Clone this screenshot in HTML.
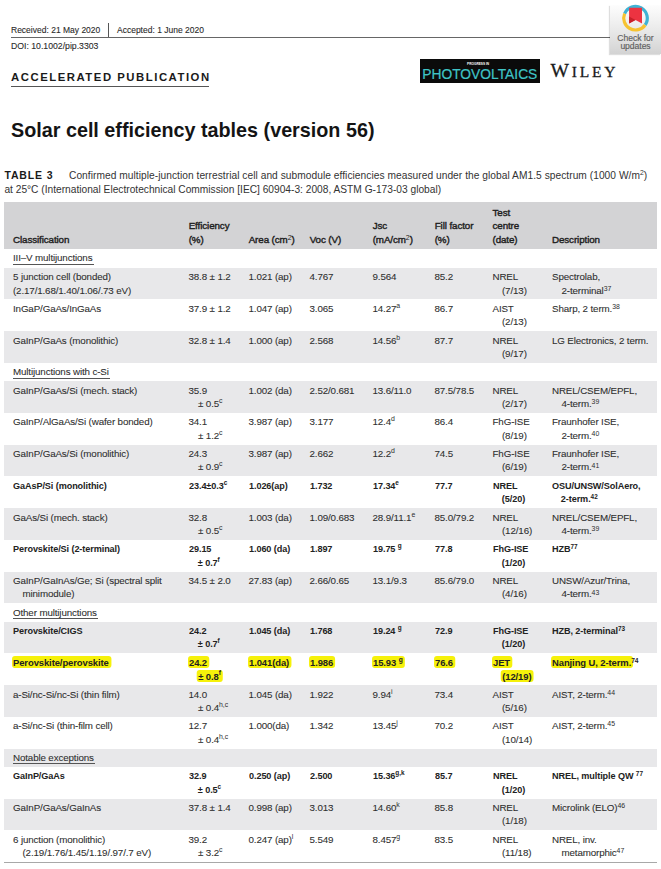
<!DOCTYPE html>
<html><head><meta charset="utf-8">
<style>
*{margin:0;padding:0;box-sizing:border-box}
html,body{width:661px;height:869px;overflow:hidden;background:#fff}
body{position:relative;font-family:"Liberation Sans",sans-serif;color:#2b2b2b}
.abs{position:absolute;white-space:nowrap}
.meta{font-size:8.5px;color:#2a2a2a;line-height:10px;-webkit-text-stroke:0.1px #2a2a2a}
.sec,.row,.head{position:absolute;left:3.5px;width:653.5px}
.row{height:31.75px}
.head{top:202.3px;height:46.89999999999998px;background:#d3d3d5}
.c{position:absolute;top:2.45px;white-space:nowrap;font-size:9.8px;line-height:13.4px;color:#2e2e2e;letter-spacing:-0.14px;-webkit-text-stroke:0.08px #2e2e2e}
.head .c{top:auto;bottom:2.9px;color:#1e1e1e;-webkit-text-stroke:0.4px #1e1e1e;letter-spacing:-0.1px}
.b .c{font-weight:bold;color:#222;letter-spacing:-0.1px;-webkit-text-stroke:0;transform:scaleX(0.93);transform-origin:0 0}
.l2{padding-left:9.5px}
.sec .ul{position:absolute;left:9.5px;top:2.3px;font-size:9.8px;line-height:13.4px;color:#2e2e2e;letter-spacing:-0.14px;-webkit-text-stroke:0.08px #2e2e2e}
.sec .ul::after{content:'';position:absolute;left:-0.5px;right:-1.5px;top:12.4px;height:1.2px;background:#555}
sup{font-size:6.9px;vertical-align:top;position:relative;top:2.1px;line-height:6.9px;letter-spacing:0;-webkit-text-stroke:0}
.hl{background:#f6f10a;border-radius:3px;padding:0.6px 2.4px 0.6px 1.4px;margin:0 -2.4px 0 -1.4px}
.hlrow .c{transform:scaleX(0.965)}
sup.lc{top:1.0px}
</style></head><body>
<div class="abs meta" style="left:11px;top:24.6px">Received: 21 May 2020</div>
<div class="abs" style="left:108px;top:23px;width:1px;height:15px;background:#555"></div>
<div class="abs meta" style="left:117px;top:24.6px">Accepted: 1 June 2020</div>
<div class="abs" style="left:10.5px;top:37.2px;width:599px;height:1px;background:#666"></div>
<div class="abs meta" style="left:11px;top:40.5px;font-size:8.7px">DOI: 10.1002/pip.3303</div>

<div class="abs" style="left:11px;top:71px;font-size:10.5px;font-weight:bold;letter-spacing:1.41px;color:#1a1a1a;line-height:12px;transform:scaleX(1.08);transform-origin:0 0">ACCELERATED PUBLICATION</div>
<div class="abs" style="left:11px;top:85.5px;width:197.5px;height:1.4px;background:#555"></div>

<!-- badge -->
<div class="abs" style="left:610px;top:4.5px;width:51px;height:49px;background:linear-gradient(#fdfdfd,#ececec 45%,#d3d3d3);box-shadow:-1px 1px 1px rgba(0,0,0,0.13)"></div>
<svg class="abs" style="left:609px;top:0" width="52" height="54" viewBox="0 0 52 54">
  <path d="M 15.64 13.59 A 11.8 11.8 0 1 1 36.16 24.97" fill="none" stroke="#3fb3d4" stroke-width="3.2"/>
  <path d="M 36.16 24.97 A 11.8 11.8 0 0 1 15.64 13.59" fill="none" stroke="#f6c332" stroke-width="3.2"/>
  <path d="M 20.1 7.8 H 33 V 23.5 L 26.5 19.9 L 20.1 23.5 Z" fill="#ec3341"/>
  <path d="M 20.1 16.6 L 26.5 19.9 L 20.1 23.5 Z" fill="#c8202a"/>
</svg>
<div class="abs" style="left:609.5px;top:35.3px;width:52px;text-align:center;font-size:8.6px;line-height:7.7px;color:#5e5e5e;letter-spacing:-0.05px;-webkit-text-stroke:0.15px #5e5e5e">Check for<br>updates</div>

<!-- PIP logo -->
<div class="abs" style="left:419.5px;top:59px;width:120px;height:24.3px;background:#0b0b0b"></div>
<div class="abs" style="left:467px;top:62px;font-size:3.2px;line-height:4px;color:#fff;font-weight:bold">PROGRESS IN</div>
<div class="abs" style="left:422.3px;top:66.9px;font-size:13.8px;line-height:16px;color:#3fc4c6;transform:scaleX(1.0);transform-origin:0 0;-webkit-text-stroke:0.2px #3fc4c6">PHOTOVOLTAICS</div>
<div class="abs" style="left:550.5px;top:61.2px;font-family:'Liberation Serif',serif;color:#1a1a1a;line-height:20px;letter-spacing:2.8px;-webkit-text-stroke:0.3px #1a1a1a"><span style="font-size:19.5px">W</span><span style="font-size:15.5px">ILEY</span></div>

<div class="abs" style="left:11px;top:117.6px;font-size:20.8px;font-weight:bold;color:#141414;line-height:24px;transform:scaleX(0.95);transform-origin:0 0">Solar cell efficiency tables (version 56)</div>

<div class="abs" style="left:4.4px;top:167.5px;font-size:10.5px;font-weight:bold;letter-spacing:0.85px;color:#1a1a1a;line-height:14px">TABLE 3</div>
<div class="abs" style="left:69px;top:169px;font-size:10.2px;color:#333;line-height:14px;letter-spacing:0.045px">Confirmed multiple-junction terrestrial cell and submodule efficiencies measured under the global AM1.5 spectrum (1000 W/m<sup style="top:0.5px">2</sup>)</div>
<div class="abs" style="left:4.4px;top:183px;font-size:10.2px;color:#333;line-height:14px">at 25°C (International Electrotechnical Commission [IEC] 60904-3: 2008, ASTM G-173-03 global)</div>

<div class="head">
 <div class="c" style="left:9.5px">Classification</div>
 <div class="c" style="left:185.2px">Efficiency<br>(%)</div>
 <div class="c" style="left:245.2px">Area (cm<sup>2</sup>)</div>
 <div class="c" style="left:306.2px">Voc (V)</div>
 <div class="c" style="left:369.2px">Jsc<br>(mA/cm<sup>2</sup>)</div>
 <div class="c" style="left:431.2px">Fill factor<br>(%)</div>
 <div class="c" style="left:489px">Test<br>centre<br>(date)</div>
 <div class="c" style="left:548.5px">Description</div>
</div>
<div class="sec" style="top:249.20px;height:18.50px;background:#fff"><span class="ul">III–V multijunctions</span></div>
<div class="row" style="top:267.70px;background:#e8e8ea"><div class="c" style="left:9.5px"><div class="l1">5 junction cell (bonded)</div><div class="l1">(2.17/1.68/1.40/1.06/.73 eV)</div></div><div class="c" style="left:185.0px"><div class="l1">38.8 ± 1.2</div></div><div class="c" style="left:245.0px"><div class="l1">1.021 (ap)</div></div><div class="c" style="left:306.0px"><div class="l1">4.767</div></div><div class="c" style="left:369.0px"><div class="l1">9.564</div></div><div class="c" style="left:431.0px"><div class="l1">85.2</div></div><div class="c" style="left:489.0px"><div class="l1">NREL</div><div class="l2">(7/13)</div></div><div class="c" style="left:548.5px"><div class="l1">Spectrolab,</div><div class="l2">2-terminal<sup>37</sup></div></div></div>
<div class="row" style="top:299.45px;background:#fff"><div class="c" style="left:9.5px"><div class="l1">InGaP/GaAs/InGaAs</div></div><div class="c" style="left:185.0px"><div class="l1">37.9 ± 1.2</div></div><div class="c" style="left:245.0px"><div class="l1">1.047 (ap)</div></div><div class="c" style="left:306.0px"><div class="l1">3.065</div></div><div class="c" style="left:369.0px"><div class="l1">14.27<sup class="lc">a</sup></div></div><div class="c" style="left:431.0px"><div class="l1">86.7</div></div><div class="c" style="left:489.0px"><div class="l1">AIST</div><div class="l2">(2/13)</div></div><div class="c" style="left:548.5px"><div class="l1">Sharp, 2 term.<sup>38</sup></div></div></div>
<div class="row" style="top:331.20px;background:#e8e8ea"><div class="c" style="left:9.5px"><div class="l1">GaInP/GaAs (monolithic)</div></div><div class="c" style="left:185.0px"><div class="l1">32.8 ± 1.4</div></div><div class="c" style="left:245.0px"><div class="l1">1.000 (ap)</div></div><div class="c" style="left:306.0px"><div class="l1">2.568</div></div><div class="c" style="left:369.0px"><div class="l1">14.56<sup class="lc">b</sup></div></div><div class="c" style="left:431.0px"><div class="l1">87.7</div></div><div class="c" style="left:489.0px"><div class="l1">NREL</div><div class="l2">(9/17)</div></div><div class="c" style="left:548.5px"><div class="l1">LG Electronics, 2 term.</div></div></div>
<div class="sec" style="top:362.95px;height:18.20px;background:#fff"><span class="ul">Multijunctions with c-Si</span></div>
<div class="row" style="top:381.15px;background:#e8e8ea"><div class="c" style="left:9.5px"><div class="l1">GaInP/GaAs/Si (mech. stack)</div></div><div class="c" style="left:185.0px"><div class="l1">35.9</div><div class="l2">± 0.5<sup class="lc">c</sup></div></div><div class="c" style="left:245.0px"><div class="l1">1.002 (da)</div></div><div class="c" style="left:306.0px"><div class="l1">2.52/0.681</div></div><div class="c" style="left:369.0px"><div class="l1">13.6/11.0</div></div><div class="c" style="left:431.0px"><div class="l1">87.5/78.5</div></div><div class="c" style="left:489.0px"><div class="l1">NREL</div><div class="l2">(2/17)</div></div><div class="c" style="left:548.5px"><div class="l1">NREL/CSEM/EPFL,</div><div class="l2">4-term.<sup>39</sup></div></div></div>
<div class="row" style="top:412.90px;background:#fff"><div class="c" style="left:9.5px"><div class="l1">GaInP/AlGaAs/Si (wafer bonded)</div></div><div class="c" style="left:185.0px"><div class="l1">34.1</div><div class="l2">± 1.2<sup class="lc">c</sup></div></div><div class="c" style="left:245.0px"><div class="l1">3.987 (ap)</div></div><div class="c" style="left:306.0px"><div class="l1">3.177</div></div><div class="c" style="left:369.0px"><div class="l1">12.4<sup class="lc">d</sup></div></div><div class="c" style="left:431.0px"><div class="l1">86.4</div></div><div class="c" style="left:489.0px"><div class="l1">FhG-ISE</div><div class="l2">(8/19)</div></div><div class="c" style="left:548.5px"><div class="l1">Fraunhofer ISE,</div><div class="l2">2-term.<sup>40</sup></div></div></div>
<div class="row" style="top:444.65px;background:#e8e8ea"><div class="c" style="left:9.5px"><div class="l1">GaInP/GaAs/Si (monolithic)</div></div><div class="c" style="left:185.0px"><div class="l1">24.3</div><div class="l2">± 0.9<sup class="lc">c</sup></div></div><div class="c" style="left:245.0px"><div class="l1">3.987 (ap)</div></div><div class="c" style="left:306.0px"><div class="l1">2.662</div></div><div class="c" style="left:369.0px"><div class="l1">12.2<sup class="lc">d</sup></div></div><div class="c" style="left:431.0px"><div class="l1">74.5</div></div><div class="c" style="left:489.0px"><div class="l1">FhG-ISE</div><div class="l2">(6/19)</div></div><div class="c" style="left:548.5px"><div class="l1">Fraunhofer ISE,</div><div class="l2">2-term.<sup>41</sup></div></div></div>
<div class="row b" style="top:476.40px;background:#fff"><div class="c" style="left:9.5px"><div class="l1">GaAsP/Si (monolithic)</div></div><div class="c" style="left:185.0px"><div class="l1">23.4±0.3<sup class="lc">c</sup></div></div><div class="c" style="left:245.0px"><div class="l1">1.026(ap)</div></div><div class="c" style="left:306.0px"><div class="l1">1.732</div></div><div class="c" style="left:369.0px"><div class="l1">17.34<sup class="lc">e</sup></div></div><div class="c" style="left:431.0px"><div class="l1">77.7</div></div><div class="c" style="left:489.0px"><div class="l1">NREL</div><div class="l2">(5/20)</div></div><div class="c" style="left:548.5px"><div class="l1">OSU/UNSW/SolAero,</div><div class="l2">2-term.<sup>42</sup></div></div></div>
<div class="row" style="top:508.15px;background:#e8e8ea"><div class="c" style="left:9.5px"><div class="l1">GaAs/Si (mech. stack)</div></div><div class="c" style="left:185.0px"><div class="l1">32.8</div><div class="l2">± 0.5<sup class="lc">c</sup></div></div><div class="c" style="left:245.0px"><div class="l1">1.003 (da)</div></div><div class="c" style="left:306.0px"><div class="l1">1.09/0.683</div></div><div class="c" style="left:369.0px"><div class="l1">28.9/11.1<sup class="lc">e</sup></div></div><div class="c" style="left:431.0px"><div class="l1">85.0/79.2</div></div><div class="c" style="left:489.0px"><div class="l1">NREL</div><div class="l2">(12/16)</div></div><div class="c" style="left:548.5px"><div class="l1">NREL/CSEM/EPFL,</div><div class="l2">4-term.<sup>39</sup></div></div></div>
<div class="row b" style="top:539.90px;background:#fff"><div class="c" style="left:9.5px"><div class="l1">Perovskite/Si (2-terminal)</div></div><div class="c" style="left:185.0px"><div class="l1">29.15</div><div class="l2">± 0.7<sup class="lc">f</sup></div></div><div class="c" style="left:245.0px"><div class="l1">1.060 (da)</div></div><div class="c" style="left:306.0px"><div class="l1">1.897</div></div><div class="c" style="left:369.0px"><div class="l1">19.75 <sup class="lc">g</sup></div></div><div class="c" style="left:431.0px"><div class="l1">77.8</div></div><div class="c" style="left:489.0px"><div class="l1">FhG-ISE</div><div class="l2">(1/20)</div></div><div class="c" style="left:548.5px"><div class="l1">HZB<sup>77</sup></div></div></div>
<div class="row" style="top:571.65px;background:#e8e8ea"><div class="c" style="left:9.5px"><div class="l1">GaInP/GaInAs/Ge; Si (spectral split</div><div class="l2">minimodule)</div></div><div class="c" style="left:185.0px"><div class="l1">34.5 ± 2.0</div></div><div class="c" style="left:245.0px"><div class="l1">27.83 (ap)</div></div><div class="c" style="left:306.0px"><div class="l1">2.66/0.65</div></div><div class="c" style="left:369.0px"><div class="l1">13.1/9.3</div></div><div class="c" style="left:431.0px"><div class="l1">85.6/79.0</div></div><div class="c" style="left:489.0px"><div class="l1">NREL</div><div class="l2">(4/16)</div></div><div class="c" style="left:548.5px"><div class="l1">UNSW/Azur/Trina,</div><div class="l2">4-term.<sup>43</sup></div></div></div>
<div class="sec" style="top:603.40px;height:18.20px;background:#fff"><span class="ul">Other multijunctions</span></div>
<div class="row b" style="top:621.60px;background:#e8e8ea"><div class="c" style="left:9.5px"><div class="l1">Perovskite/CIGS</div></div><div class="c" style="left:185.0px"><div class="l1">24.2</div><div class="l2">± 0.7<sup class="lc">f</sup></div></div><div class="c" style="left:245.0px"><div class="l1">1.045 (da)</div></div><div class="c" style="left:306.0px"><div class="l1">1.768</div></div><div class="c" style="left:369.0px"><div class="l1">19.24 <sup class="lc">g</sup></div></div><div class="c" style="left:431.0px"><div class="l1">72.9</div></div><div class="c" style="left:489.0px"><div class="l1">FhG-ISE</div><div class="l2">(1/20)</div></div><div class="c" style="left:548.5px"><div class="l1">HZB, 2-terminal<sup>73</sup></div></div></div>
<div class="row b hlrow" style="top:653.35px;background:#fff"><div class="c" style="left:9.5px"><div class="l1"><span class="hl">Perovskite/perovskite</span></div></div><div class="c" style="left:185.0px"><div class="l1"><span class="hl">24.2</span></div><div class="l2"><span class="hl">± 0.8<sup class="lc">f</sup></span></div></div><div class="c" style="left:245.0px"><div class="l1"><span class="hl">1.041(da)</span></div></div><div class="c" style="left:306.0px"><div class="l1"><span class="hl">1.986</span></div></div><div class="c" style="left:369.0px"><div class="l1"><span class="hl">15.93 <sup class="lc">g</sup></span></div></div><div class="c" style="left:431.0px"><div class="l1"><span class="hl">76.6</span></div></div><div class="c" style="left:489.0px"><div class="l1"><span class="hl">JET</span></div><div class="l2"><span class="hl">(12/19)</span></div></div><div class="c" style="left:548.5px"><div class="l1"><span class="hl">Nanjing U, 2-term.</span><sup>74</sup></div></div></div>
<div class="row" style="top:685.10px;background:#e8e8ea"><div class="c" style="left:9.5px"><div class="l1">a-Si/nc-Si/nc-Si (thin film)</div></div><div class="c" style="left:185.0px"><div class="l1">14.0</div><div class="l2">± 0.4<sup class="lc">h,c</sup></div></div><div class="c" style="left:245.0px"><div class="l1">1.045 (da)</div></div><div class="c" style="left:306.0px"><div class="l1">1.922</div></div><div class="c" style="left:369.0px"><div class="l1">9.94<sup class="lc">i</sup></div></div><div class="c" style="left:431.0px"><div class="l1">73.4</div></div><div class="c" style="left:489.0px"><div class="l1">AIST</div><div class="l2">(5/16)</div></div><div class="c" style="left:548.5px"><div class="l1">AIST, 2-term.<sup>44</sup></div></div></div>
<div class="row" style="top:716.85px;background:#fff"><div class="c" style="left:9.5px"><div class="l1">a-Si/nc-Si (thin-film cell)</div></div><div class="c" style="left:185.0px"><div class="l1">12.7</div><div class="l2">± 0.4<sup class="lc">h,c</sup></div></div><div class="c" style="left:245.0px"><div class="l1">1.000(da)</div></div><div class="c" style="left:306.0px"><div class="l1">1.342</div></div><div class="c" style="left:369.0px"><div class="l1">13.45<sup class="lc">j</sup></div></div><div class="c" style="left:431.0px"><div class="l1">70.2</div></div><div class="c" style="left:489.0px"><div class="l1">AIST</div><div class="l2">(10/14)</div></div><div class="c" style="left:548.5px"><div class="l1">AIST, 2-term.<sup>45</sup></div></div></div>
<div class="sec" style="top:748.60px;height:18.20px;background:#e8e8ea"><span class="ul">Notable exceptions</span></div>
<div class="row b" style="top:766.80px;background:#fff"><div class="c" style="left:9.5px"><div class="l1">GaInP/GaAs</div></div><div class="c" style="left:185.0px"><div class="l1">32.9</div><div class="l2">± 0.5<sup class="lc">c</sup></div></div><div class="c" style="left:245.0px"><div class="l1">0.250 (ap)</div></div><div class="c" style="left:306.0px"><div class="l1">2.500</div></div><div class="c" style="left:369.0px"><div class="l1">15.36<sup class="lc">g,k</sup></div></div><div class="c" style="left:431.0px"><div class="l1">85.7</div></div><div class="c" style="left:489.0px"><div class="l1">NREL</div><div class="l2">(1/20)</div></div><div class="c" style="left:548.5px"><div class="l1">NREL, multiple QW <sup>77</sup></div></div></div>
<div class="row" style="top:798.55px;background:#e8e8ea"><div class="c" style="left:9.5px"><div class="l1">GaInP/GaAs/GaInAs</div></div><div class="c" style="left:185.0px"><div class="l1">37.8 ± 1.4</div></div><div class="c" style="left:245.0px"><div class="l1">0.998 (ap)</div></div><div class="c" style="left:306.0px"><div class="l1">3.013</div></div><div class="c" style="left:369.0px"><div class="l1">14.60<sup class="lc">k</sup></div></div><div class="c" style="left:431.0px"><div class="l1">85.8</div></div><div class="c" style="left:489.0px"><div class="l1">NREL</div><div class="l2">(1/18)</div></div><div class="c" style="left:548.5px"><div class="l1">Microlink (ELO)<sup>46</sup></div></div></div>
<div class="row" style="top:830.30px;background:#fff"><div class="c" style="left:9.5px"><div class="l1">6 junction (monolithic)</div><div class="l2">(2.19/1.76/1.45/1.19/.97/.7 eV)</div></div><div class="c" style="left:185.0px"><div class="l1">39.2</div><div class="l2">± 3.2<sup class="lc">c</sup></div></div><div class="c" style="left:245.0px"><div class="l1">0.247 (ap)<sup class="lc">l</sup></div></div><div class="c" style="left:306.0px"><div class="l1">5.549</div></div><div class="c" style="left:369.0px"><div class="l1">8.457<sup class="lc">g</sup></div></div><div class="c" style="left:431.0px"><div class="l1">83.5</div></div><div class="c" style="left:489.0px"><div class="l1">NREL</div><div class="l2">(11/18)</div></div><div class="c" style="left:548.5px"><div class="l1">NREL, inv.</div><div class="l2">metamorphic<sup>47</sup></div></div></div>
<div class="abs" style="left:3.5px;top:861.5px;width:653.5px;height:1px;background:#a8a8a8"></div>
</body></html>
